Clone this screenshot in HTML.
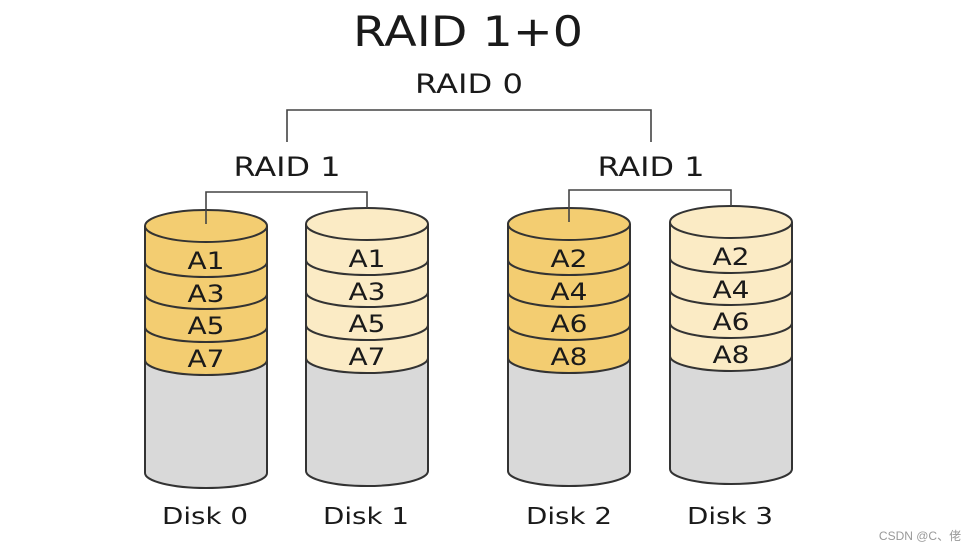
<!DOCTYPE html>
<html><head><meta charset="utf-8"><style>
html,body{margin:0;padding:0;background:#fff;}
svg{display:block;}
text{font-family:"DejaVu Sans","Liberation Sans",sans-serif;fill:#1a1a1a;text-anchor:middle;}
</style></head><body>
<svg id="s" width="976" height="550" viewBox="0 0 976 550">
<g id="shapes" stroke="#333" stroke-width="2"></g>
<g fill="none" stroke="#444" stroke-width="1.6">
<polyline points="287,142 287,110 651,110 651,142"/>
<polyline points="206,224 206,192 367,192 367,208"/>
<polyline points="569,222 569,190 731,190 731,206"/>
</g>
<text x="468" y="46" font-size="42" textLength="230" lengthAdjust="spacingAndGlyphs">RAID 1+0</text>
<text x="469" y="93" font-size="27" textLength="108" lengthAdjust="spacingAndGlyphs">RAID 0</text>
<text x="287" y="176" font-size="27" textLength="107" lengthAdjust="spacingAndGlyphs">RAID 1</text>
<text x="651" y="176" font-size="27" textLength="107" lengthAdjust="spacingAndGlyphs">RAID 1</text>
<g font-size="24">
<text x="206" y="269" textLength="37" lengthAdjust="spacingAndGlyphs">A1</text><text x="206" y="302" textLength="37" lengthAdjust="spacingAndGlyphs">A3</text><text x="206" y="334" textLength="37" lengthAdjust="spacingAndGlyphs">A5</text><text x="206" y="367" textLength="37" lengthAdjust="spacingAndGlyphs">A7</text>
<text x="367" y="267" textLength="37" lengthAdjust="spacingAndGlyphs">A1</text><text x="367" y="300" textLength="37" lengthAdjust="spacingAndGlyphs">A3</text><text x="367" y="332" textLength="37" lengthAdjust="spacingAndGlyphs">A5</text><text x="367" y="365" textLength="37" lengthAdjust="spacingAndGlyphs">A7</text>
<text x="569" y="267" textLength="37" lengthAdjust="spacingAndGlyphs">A2</text><text x="569" y="300" textLength="37" lengthAdjust="spacingAndGlyphs">A4</text><text x="569" y="332" textLength="37" lengthAdjust="spacingAndGlyphs">A6</text><text x="569" y="365" textLength="37" lengthAdjust="spacingAndGlyphs">A8</text>
<text x="731" y="265" textLength="37" lengthAdjust="spacingAndGlyphs">A2</text><text x="731" y="298" textLength="37" lengthAdjust="spacingAndGlyphs">A4</text><text x="731" y="330" textLength="37" lengthAdjust="spacingAndGlyphs">A6</text><text x="731" y="363" textLength="37" lengthAdjust="spacingAndGlyphs">A8</text>
</g>
<g font-size="23">
<text x="205" y="524" textLength="86" lengthAdjust="spacingAndGlyphs">Disk 0</text><text x="366" y="524" textLength="86" lengthAdjust="spacingAndGlyphs">Disk 1</text>
<text x="569" y="524" textLength="86" lengthAdjust="spacingAndGlyphs">Disk 2</text><text x="730" y="524" textLength="86" lengthAdjust="spacingAndGlyphs">Disk 3</text>
</g>
<text x="920" y="540" font-size="12" style="fill:#999;font-family:'Liberation Sans','Noto Sans CJK SC',sans-serif">CSDN @C、佬</text>
</svg>
<script>
var g=document.getElementById('shapes'),ns='http://www.w3.org/2000/svg';
function el(t,a){var e=document.createElementNS(ns,t);for(var k in a)e.setAttribute(k,a[k]);g.appendChild(e);}
function disk(cx,dy,col){var rx=61,ry=15;
 var c=[226,262,294,327,360].map(function(v){return v+dy;}),bot=473+dy;
 el('ellipse',{cx:cx,cy:bot,rx:rx,ry:ry,fill:'#d9d9d9'});
 el('rect',{x:cx-rx,y:c[4],width:2*rx,height:bot-c[4],fill:'#d9d9d9',stroke:'none'});
 for(var i=4;i>=1;i--){
  el('path',{d:'M'+(cx-rx)+','+c[i]+' A'+rx+','+ry+' 0 0 0 '+(cx+rx)+','+c[i]+' L'+(cx+rx)+','+c[i-1]+' L'+(cx-rx)+','+c[i-1]+' Z',fill:col,stroke:'none'});
  el('path',{d:'M'+(cx-rx)+','+c[i]+' A'+rx+','+ry+' 0 0 0 '+(cx+rx)+','+c[i],fill:'none'});
 }
 el('line',{x1:cx-rx,y1:c[0],x2:cx-rx,y2:bot});el('line',{x1:cx+rx,y1:c[0],x2:cx+rx,y2:bot});
 el('ellipse',{cx:cx,cy:c[0],rx:rx,ry:16,fill:col});
}
disk(206,0,'#f3cd71');disk(367,-2,'#fbebc5');disk(569,-2,'#f3cd71');disk(731,-4,'#fbebc5');
</script>
</body></html>
